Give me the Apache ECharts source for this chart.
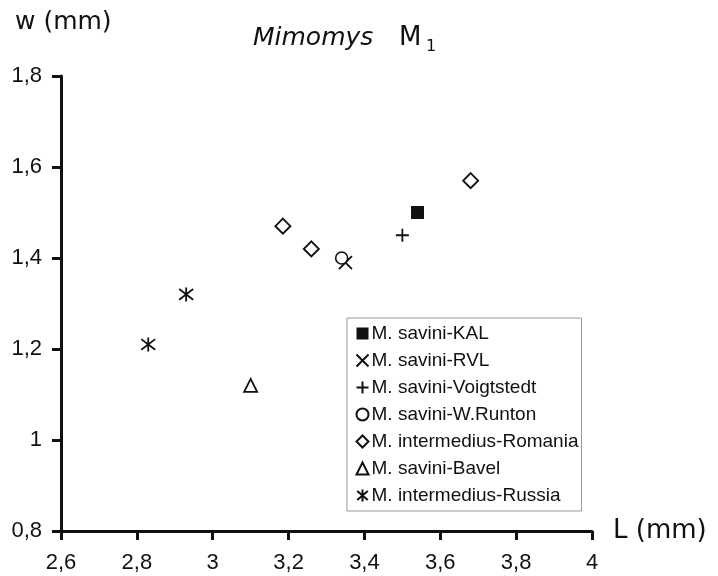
<!DOCTYPE html>
<html><head><meta charset="utf-8">
<script src="https://cdn.jsdelivr.net/npm/echarts@6/dist/echarts.min.js"></script>
<style>html,body{margin:0;padding:0;background:#fff}#c{width:718px;height:576px}</style>
</head><body><div id="c"></div>
<script>
const seriesNames = ['M. savini-KAL','M. savini-RVL','M. savini-Voigtstedt','M. savini-W.Runton','M. intermedius-Romania','M. savini-Bavel','M. intermedius-Russia'];
const kal = [[3.54, 1.50]];
const rvl = [[3.35, 1.39]];
const voigtstedt = [[3.50, 1.45]];
const wrunton = [[3.34, 1.40]];
const romania = [[3.185, 1.47],[3.26, 1.42],[3.68, 1.57]];
const bavel = [[3.10, 1.12]];
const russia = [[2.83, 1.21],[2.93, 1.32]];
const xTickLabels = ['2,6','2,8','3','3,2','3,4','3,6','3,8','4'];
const yTickLabels = ['0,8','1','1,2','1,4','1,6','1,8'];
const xMin = 2.6, xMax = 4, yMin = 0.8, yMax = 1.8, step = 0.2;

const FONT = "'Liberation Sans',sans-serif";
const SYM = {
  square: {symbol:'rect', size:13, style:{color:'#111', borderColor:'#111', borderWidth:0}},
  cross: {symbol:'path://M0,0L10,10M10,0L0,10', size:13, style:{color:'none', borderColor:'#111', borderWidth:1.8}},
  plus: {symbol:'path://M5,0L5,10M0,5L10,5', size:13, style:{color:'none', borderColor:'#111', borderWidth:1.8}},
  circle: {symbol:'circle', size:12, style:{color:'#fff', borderColor:'#111', borderWidth:1.6}},
  diamond: {symbol:'diamond', size:15, style:{color:'#fff', borderColor:'#111', borderWidth:1.9}},
  triangle: {symbol:'triangle', size:13, style:{color:'#fff', borderColor:'#111', borderWidth:1.8}},
  star: {symbol:'path://M5,0L5,10M0.6,1.2L9.4,8.8M0.6,8.8L9.4,1.2', size:14, style:{color:'none', borderColor:'#111', borderWidth:1.8}}
};
const datasets = [kal, rvl, voigtstedt, wrunton, romania, bavel, russia];
const symKeys = ['square','cross','plus','circle','diamond','triangle','star'];

const series = datasets.map((d,i)=>{
  const s = SYM[symKeys[i]];
  return {name: seriesNames[i], type:'scatter', data:d, symbol:s.symbol, symbolSize:s.size,
    itemStyle:Object.assign({opacity:1}, s.style), emphasis:{disabled:true}, z:3};
});

const chart = echarts.init(document.getElementById('c'), null, {renderer:'canvas'});
chart.setOption({
  animation:false,
  backgroundColor:'#fff',
  grid:{left:61, right:126, top:76, bottom:45, containLabel:false},
  legend:{
    orient:'vertical', left:347, top:318,
    data: seriesNames,
    backgroundColor:'#fff', borderColor:'#999', borderWidth:1,
    padding:[6,3,6,7], itemGap:8, itemWidth:12, itemHeight:12,
    textStyle:{fontFamily:FONT, fontSize:19, color:'#111', padding:[0,0,0,-2]},
    selectedMode:false
  },
  xAxis:{
    type:'value', min:xMin, max:xMax, interval:step,
    axisLine:{lineStyle:{color:'#111', width:3}},
    axisTick:{show:true, inside:false, length:9, lineStyle:{color:'#111', width:3}},
    splitLine:{show:false},
    axisLabel:{margin:21, fontFamily:FONT, fontSize:22, color:'#111',
      formatter:(v)=>xTickLabels[Math.round((v-xMin)/step)]}
  },
  yAxis:{
    type:'value', min:yMin, max:yMax, interval:step,
    axisLine:{show:true, lineStyle:{color:'#111', width:3}},
    axisTick:{show:true, inside:false, length:9, lineStyle:{color:'#111', width:3}},
    splitLine:{show:false},
    axisLabel:{margin:19, fontFamily:FONT, fontSize:22, color:'#111',
      formatter:(v)=>yTickLabels[Math.round((v-yMin)/step)]}
  },
  graphic:[
    {type:'text', x:15, y:22, style:{text:'w (mm)', font:"25px 'DejaVu Sans',sans-serif", fill:'#111', verticalAlign:'middle', align:'left'}},
    {type:'text', x:613, y:531, style:{text:'L (mm)', font:"26px 'DejaVu Sans',sans-serif", fill:'#111', verticalAlign:'middle', align:'left'}},
    {type:'text', x:253, y:38, style:{text:'Mimomys', font:"italic 25px 'DejaVu Sans',sans-serif", fill:'#111', verticalAlign:'middle', align:'left'}},
    {type:'text', x:399, y:38, style:{text:'M', font:"26px 'DejaVu Sans',sans-serif", fill:'#111', verticalAlign:'middle', align:'left'}},
    {type:'text', x:426, y:47, style:{text:'1', font:"16px 'DejaVu Sans',sans-serif", fill:'#111', verticalAlign:'middle', align:'left'}}
  ],
  series: series
});
</script></body></html>
